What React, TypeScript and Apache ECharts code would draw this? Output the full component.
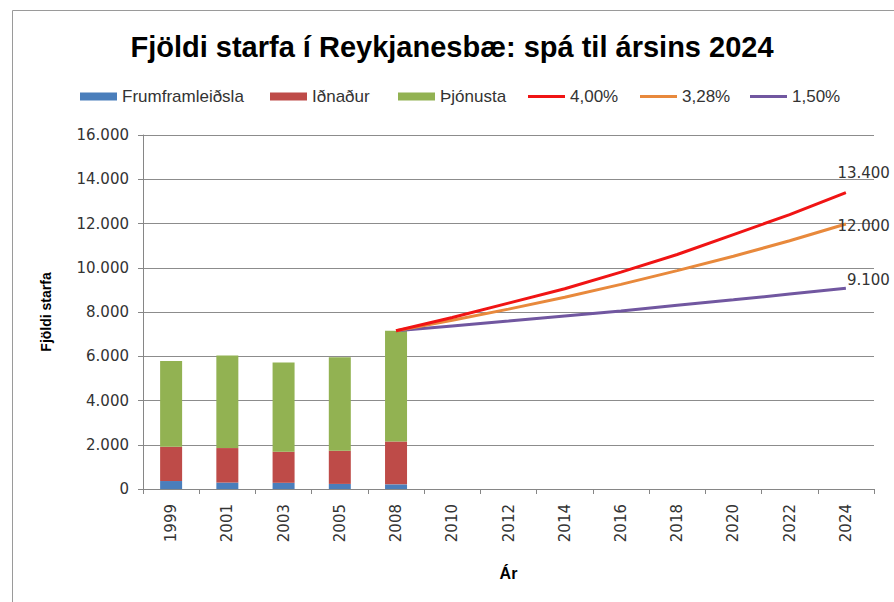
import React, { useEffect, useRef } from "react";
import * as echarts from "echarts";

const categories = ["1999", "2001", "2003", "2005", "2008", "2010", "2012", "2014", "2016", "2018", "2020", "2022", "2024"];
const frumframleidsla = [360, 290, 280, 230, 210];
const idnadur = [1550, 1560, 1405, 1500, 1940];
const thjonusta = [3870, 4185, 4035, 4230, 5000];
const lineStartIndex = 4; // 2008
const growth400 = [7150, 7750, 8400, 9050, 9800, 10600, 11500, 12400, 13400];
const growth328 = [7150, 7630, 8130, 8670, 9250, 9870, 10520, 11220, 11980];
const growth150 = [7150, 7370, 7590, 7820, 8050, 8300, 8550, 8810, 9070];
const endLabels = ["13.400", "12.000", "9.100"];
const seriesNames = ["Frumframleiðsla", "Iðnaður", "Þjónusta", "4,00%", "3,28%", "1,50%"];

const TICK_FONT = "'DejaVu Sans', Verdana, sans-serif";
const SANS = "'Liberation Sans', Arial, sans-serif";

function fmt(v: number) {
  return String(Math.round(v)).replace(/\B(?=(\d{3})+(?!\d))/g, ".");
}

function barData(arr: number[]) {
  return categories.map((_, i) => (i < arr.length ? arr[i] : null));
}

function lineData(arr: number[], label: string, dy: number) {
  return categories.map((_, i) => {
    const j = i - lineStartIndex;
    if (j < 0) return null;
    const v = arr[j];
    if (j === arr.length - 1) {
      return {
        value: v,
        label: {
          show: true,
          position: "right",
          distance: 0,
          align: "right",
          offset: [44, dy],
          formatter: label,
          fontSize: 15,
          fontFamily: TICK_FONT,
          color: "#333",
        },
      };
    }
    return v;
  });
}

export default function App() {
  const ref = useRef<HTMLDivElement>(null);
  useEffect(() => {
    if (!ref.current) return;
    const chart = echarts.init(ref.current, undefined, { renderer: "svg" });
    const colors = ["#4A7EBB", "#BE4B48", "#92B252", "#F01414", "#E8893C", "#7157A0"];
    const legendLefts = [80, 270, 398, 528, 640, 750];
    const legends = seriesNames.map((name, i) => ({
      show: true,
      left: legendLefts[i],
      top: 88,
      padding: 0,
      itemWidth: 37,
      itemHeight: i < 3 ? 8 : 3,
      icon: "rect",
      data: [{ name, icon: "rect" }],
      textStyle: { fontSize: 17, fontFamily: SANS, color: "#333" },
      selectedMode: false,
    }));
    const lineCommon = {
      type: "line",
      symbol: "circle",
      symbolSize: 0,
      showSymbol: true,
      showAllSymbol: true,
    };
    const option: any = {
      animation: false,
      backgroundColor: "#fff",
      title: {
        text: "Fjöldi starfa í Reykjanesbæ: spá til ársins 2024",
        left: 452,
        textAlign: "center",
        top: 32,
        padding: 0,
        textStyle: { fontSize: 29, fontWeight: "bold", fontFamily: SANS, color: "#000" },
      },
      legend: legends,
      grid: { left: 143, right: 20, top: 135, bottom: 113, containLabel: false },
      xAxis: {
        type: "category",
        data: categories,
        boundaryGap: true,
        name: "Ár",
        nameLocation: "middle",
        nameGap: 76,
        nameTextStyle: { fontSize: 16, fontWeight: "bold", fontFamily: SANS, color: "#000" },
        axisLine: { lineStyle: { color: "#868686" } },
        axisTick: { show: true, length: 5, lineStyle: { color: "#868686" } },
        axisLabel: {
          interval: 0,
          rotate: 90,
          margin: 15,
          fontSize: 15,
          fontFamily: TICK_FONT,
          color: "#333",
        },
      },
      yAxis: {
        type: "value",
        min: 0,
        max: 16000,
        interval: 2000,
        name: "Fjöldi starfa",
        nameLocation: "middle",
        nameRotate: 90,
        nameGap: 90,
        nameTextStyle: { fontSize: 14, fontWeight: "bold", fontFamily: SANS, color: "#000" },
        axisLine: { show: true, lineStyle: { color: "#868686" } },
        axisTick: { show: true, length: 5, lineStyle: { color: "#868686" } },
        splitLine: { show: true, lineStyle: { color: "#8C8C8C", width: 1 } },
        axisLabel: {
          margin: 14,
          fontSize: 15,
          fontFamily: TICK_FONT,
          color: "#333",
          formatter: (v: number) => fmt(v),
        },
      },
      graphic: [
        {
          type: "rect",
          shape: { x: 12.5, y: 10.5, width: 1000, height: 1000 },
          style: { fill: "none", stroke: "#9a9a9a", lineWidth: 1 },
          silent: true,
        },
      ],
      series: [
        { name: seriesNames[0], type: "bar", stack: "s", barWidth: 22, data: barData(frumframleidsla), itemStyle: { color: colors[0] } },
        { name: seriesNames[1], type: "bar", stack: "s", barWidth: 22, data: barData(idnadur), itemStyle: { color: colors[1] } },
        { name: seriesNames[2], type: "bar", stack: "s", barWidth: 22, data: barData(thjonusta), itemStyle: { color: colors[2] } },
        { ...lineCommon, name: seriesNames[3], data: lineData(growth400, endLabels[0], -20), lineStyle: { color: colors[3], width: 3 }, itemStyle: { color: colors[3] }, z: 5 },
        { ...lineCommon, name: seriesNames[4], data: lineData(growth328, endLabels[1], 2), lineStyle: { color: colors[4], width: 3 }, itemStyle: { color: colors[4] }, z: 4 },
        { ...lineCommon, name: seriesNames[5], data: lineData(growth150, endLabels[2], -8), lineStyle: { color: colors[5], width: 3 }, itemStyle: { color: colors[5] }, z: 3 },
      ],
    };
    chart.setOption(option);
    return () => chart.dispose();
  }, []);
  return (
    <div style={{ position: "absolute", left: 0, top: 0, width: 894, height: 602, background: "#fff" }}>
      <div ref={ref} style={{ width: 894, height: 602 }} />
    </div>
  );
}
